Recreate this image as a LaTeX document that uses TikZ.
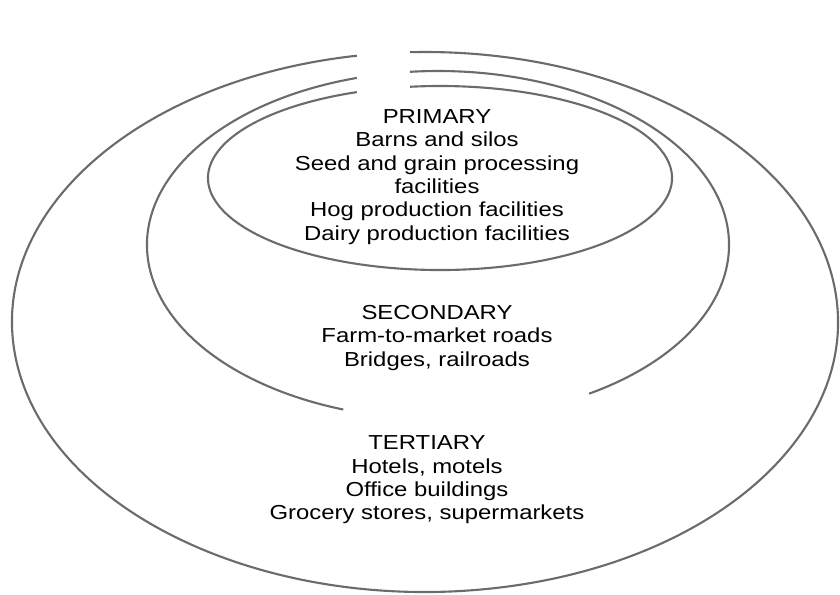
\documentclass[tikz,border=0pt]{standalone}
\usepackage{fontspec}
\setmainfont{Liberation Sans}[FakeStretch=1.18]
\usepackage{tikz}

\tikzset{
	ring/.style={line width=1.5pt, draw=black!58},
	label/.style={align=center, inner sep=0pt, font=\fontsize{14.4}{16.6}\selectfont}
}

\begin{document}
\begin{tikzpicture}[x=0.025cm, y=0.025cm]
	\useasboundingbox (0,0) rectangle (840,594);
	
	% the three rings, open at the top
	\draw[ring] (425,272) ++(99.5:413 and 270) arc[start angle=99.5, end angle=452.1, x radius=413, y radius=270];
	\draw[ring] (438,349) ++(106.2:291 and 174) arc[start angle=106.2, end angle=251, x radius=291, y radius=174];
	\draw[ring] (438,349) ++(-58.7:291 and 174) arc[start angle=-58.7, end angle=95.5, x radius=291, y radius=174];
	\draw[ring] (440,416) ++(111:232 and 92) arc[start angle=111, end angle=457.4, x radius=232, y radius=92];
	
	\node[label] (primary) at (437, 417) {PRIMARY\\Barns and silos\\Seed and grain processing\\facilities\\Hog production facilities\\Dairy production facilities};
	\node[label] (secondary) at (437, 256) {SECONDARY\\Farm-to-market roads\\Bridges, railroads};
	\node[label] (tertiary) at (427, 114) {TERTIARY\\Hotels, motels\\Office buildings\\Grocery stores, supermarkets};
	
\end{tikzpicture}
\end{document}
